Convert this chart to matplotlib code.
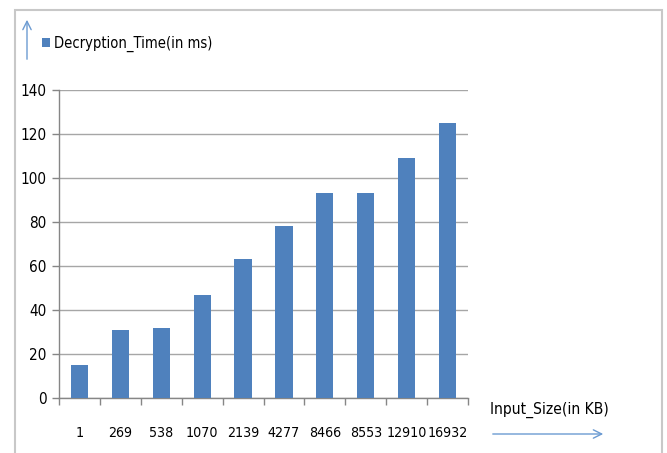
import matplotlib
matplotlib.use("Agg")
import matplotlib.pyplot as plt
from matplotlib.patches import Rectangle, FancyArrowPatch
import numpy as np

categories = ["1", "269", "538", "1070", "2139", "4277", "8466", "8553", "12910", "16932"]
decryption_time = [15, 31, 32, 47, 63, 78, 93, 93, 109, 125]
y_ticks = [0, 20, 40, 60, 80, 100, 120, 140]

plt.rcParams['font.family'] = ['DejaVu Sans']
plt.rcParams['font.stretch'] = 'condensed'
bar_color = "#4F81BD"
arrow_color = "#6C9BD2"
fs = 10.2

fig = plt.figure(figsize=(6.67, 4.53), dpi=100)
W, H = 667, 453

# outer frame
fig.patches.append(Rectangle((15 / W, -0.05), (662 - 15) / W, 1 - 10 / H + 0.05,
                             transform=fig.transFigure, fill=False,
                             edgecolor="#C8C8C8", linewidth=1.5))

ax = fig.add_axes([59 / W, 1 - 398 / H, (468 - 59) / W, (398 - 90) / H])
x = np.arange(len(categories))
ax.bar(x, decryption_time, width=0.42, color=bar_color, zorder=3,
       label="Decryption_Time(in ms)")
ax.set_xlim(-0.5, len(categories) - 0.5)
ax.set_ylim(0, 140)
ax.set_yticks(y_ticks)
ax.set_yticklabels([str(v) for v in y_ticks], fontsize=11)
ax.set_xticks(x)
ax.set_xticklabels(categories, fontsize=fs)
ax.set_xticks(np.arange(len(categories) + 1) - 0.5, minor=True)
ax.tick_params(axis='x', which='major', length=0, pad=20)
ax.tick_params(axis='x', which='minor', length=5, color="#868686", width=1)
ax.tick_params(axis='y', length=5, color="#868686", width=1, pad=4)
ax.yaxis.grid(True, color="#A6A6A6", linewidth=1, zorder=0)
for s in ["top", "right"]:
    ax.spines[s].set_visible(False)
for s in ["left", "bottom"]:
    ax.spines[s].set_color("#868686")
    ax.spines[s].set_linewidth(1)

# legend
leg = fig.legend(loc="center left", bbox_to_anchor=(42 / W, 1 - 44 / H),
                 frameon=False, fontsize=10.5, handlelength=0.55, handleheight=0.55,
                 handletextpad=0.3, borderpad=0, borderaxespad=0)

# axis arrows
fig.patches.append(FancyArrowPatch((27 / W, 1 - 62 / H), (27 / W, 1 - 17 / H),
                                   transform=fig.transFigure, arrowstyle="->,head_length=6,head_width=3",
                                   color=arrow_color, linewidth=1))
fig.patches.append(FancyArrowPatch((490 / W, 1 - 434 / H), (606 / W, 1 - 434 / H),
                                   transform=fig.transFigure, arrowstyle="->,head_length=6,head_width=3",
                                   color=arrow_color, linewidth=1))
fig.text(490 / W, 1 - 410 / H, "Input_Size(in KB)", fontsize=11.2, va="center", ha="left")

fig.savefig("out.png", dpi=100)
